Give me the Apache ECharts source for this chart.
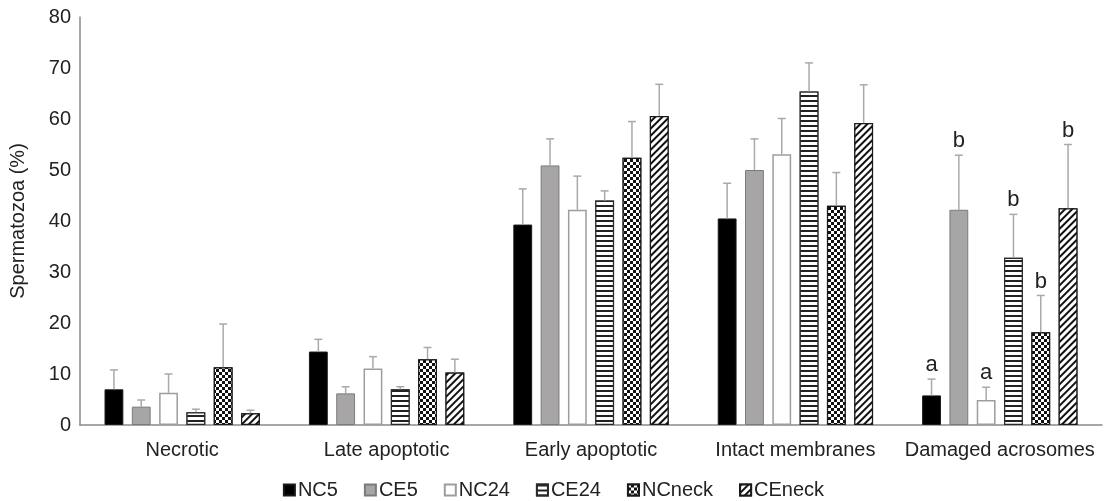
<!DOCTYPE html>
<html>
<head>
<meta charset="utf-8">
<script src="https://cdn.jsdelivr.net/npm/echarts@6/dist/echarts.min.js"></script>
<style>html,body{margin:0;padding:0;background:#fff;}#c{width:1107px;height:501px;}</style>
</head>
<body>
<div id="c"></div>
<script>
const categories = ['Necrotic', 'Late apoptotic', 'Early apoptotic', 'Intact membranes', 'Damaged acrosomes'];
const seriesNames = ['NC5', 'CE5', 'NC24', 'CE24', 'NCneck', 'CEneck'];
const NC5 = [7.0, 14.4, 39.3, 40.5, 5.8];
const CE5 = [3.6, 6.2, 50.9, 50.0, 42.2];
const NC24 = [6.3, 11.1, 42.2, 53.1, 4.9];
const CE24 = [2.5, 7.0, 44.0, 65.4, 32.8];
const NCneck = [11.3, 12.9, 52.4, 43.0, 18.2];
const CEneck = [2.3, 10.3, 60.6, 59.2, 42.5];
const NC5_sd = [3.8, 2.4, 7.0, 6.9, 3.2];
const CE5_sd = [1.3, 1.3, 5.2, 6.1, 10.7];
const NC24_sd = [3.7, 2.3, 6.6, 7.0, 2.5];
const CE24_sd = [0.6, 0.5, 1.9, 5.6, 8.5];
const NCneck_sd = [8.5, 2.3, 7.1, 6.5, 7.2];
const CEneck_sd = [0.6, 2.6, 6.2, 7.5, 12.5];
const letters = ['a', 'b', 'a', 'b', 'b', 'b']; // Damaged acrosomes
const letterCategory = 4;
const yTicks = [0, 10, 20, 30, 40, 50, 60, 70, 80];

const means = [NC5, CE5, NC24, CE24, NCneck, CEneck];
const sds = [NC5_sd, CE5_sd, NC24_sd, CE24_sd, NCneck_sd, CEneck_sd];

const FONT = '"Liberation Sans", Arial, sans-serif';
const TXT = '#222222';
const CAT_GAP = 0.24, BAR_GAP = 0.45;

const styles = [
  {color: '#000000', borderColor: '#1a1a1a', borderWidth: 1},
  {color: '#a7a5a5', borderColor: '#7b7b7b', borderWidth: 1},
  {color: '#ffffff', borderColor: '#9d9d9d', borderWidth: 1.5},
  {color: '#ffffff', borderColor: '#2a2a2a', borderWidth: 1.2,
   decal: {symbol: 'rect', symbolSize: 1, color: '#222', backgroundColor: '#ffffff', dashArrayX: [[1, 0]], dashArrayY: [1.5, 2.5], rotation: 0}},
  {color: '#ffffff', borderColor: '#1a1a1a', borderWidth: 1.2,
   decal: {symbol: 'rect', symbolSize: 1, color: '#111', backgroundColor: '#ffffff', dashArrayX: [[3, 3], [0, 3, 3, 0]], dashArrayY: [3, 0], rotation: 0}},
  {color: '#ffffff', borderColor: '#1a1a1a', borderWidth: 1.2,
   decal: {symbol: 'rect', symbolSize: 1, color: '#111', backgroundColor: '#ffffff', dashArrayX: [[1, 0]], dashArrayY: [2, 3], rotation: -Math.PI / 4}}
];

const barSeries = seriesNames.map((n, i) => ({
  name: n,
  type: 'bar',
  data: means[i],
  barGap: (BAR_GAP * 100) + '%',
  barCategoryGap: (CAT_GAP * 100) + '%',
  itemStyle: styles[i],
  emphasis: {disabled: true},
  z: 2
}));

const errData = [];
for (let s = 0; s < means.length; s++) {
  for (let c = 0; c < categories.length; c++) {
    errData.push([c, means[s][c], s, sds[s][c], c === letterCategory ? letters[s] : '']);
  }
}

const errSeries = {
  type: 'custom',
  data: errData,
  encode: {x: 0, y: 1},
  z: 3,
  silent: true,
  renderItem: function (params, api) {
    const c = api.value(0), m = api.value(1), s = api.value(2), sd = api.value(3);
    const letter = errData[params.dataIndex][4];
    const band = api.size([1, 0])[0];
    const n = seriesNames.length;
    const usable = band * (1 - CAT_GAP);
    const w = usable / (n + (n - 1) * BAR_GAP);
    const off = -usable / 2 + s * w * (1 + BAR_GAP) + w / 2;
    const p0 = api.coord([c, m]);
    const p1 = api.coord([c, m + sd]);
    const x = p0[0] + off;
    const children = [
      {type: 'line', shape: {x1: x, y1: p0[1], x2: x, y2: p1[1]}, style: {stroke: '#a9a9a9', lineWidth: 1.5}},
      {type: 'line', shape: {x1: x - 4, y1: p1[1], x2: x + 4, y2: p1[1]}, style: {stroke: '#a9a9a9', lineWidth: 1.5}}
    ];
    if (letter) {
      children.push({type: 'text', style: {text: letter, x: x, y: p1[1] - 3, align: 'center', verticalAlign: 'bottom', fill: TXT, font: '22px ' + FONT}});
    }
    return {type: 'group', children: children};
  }
};

const chart = echarts.init(document.getElementById('c'), null, {renderer: 'canvas'});
chart.setOption({
  animation: false,
  backgroundColor: '#ffffff',
  grid: {left: 80, right: 5, top: 17, bottom: 76, containLabel: false},
  legend: {
    data: seriesNames,
    top: 475,
    left: 'center',
    itemWidth: 11,
    itemHeight: 11,
    itemGap: 26,
    icon: 'rect',
    textStyle: {fontSize: 20, color: TXT, fontFamily: FONT, padding: [0, 0, 0, -2]},
    selectedMode: false
  },
  xAxis: {
    type: 'category',
    data: categories,
    axisLine: {lineStyle: {color: '#8a8a8a', width: 1.5}},
    axisTick: {show: false},
    axisLabel: {fontSize: 20, color: TXT, fontFamily: FONT, margin: 15, interval: 0, hideOverlap: false}
  },
  yAxis: {
    type: 'value',
    min: yTicks[0],
    max: yTicks[yTicks.length - 1],
    interval: yTicks[1] - yTicks[0],
    name: 'Spermatozoa (%)',
    nameLocation: 'middle',
    nameGap: 52,
    nameRotate: 90,
    nameTextStyle: {fontSize: 20, color: TXT, fontFamily: FONT},
    axisLine: {show: true, lineStyle: {color: '#8a8a8a', width: 1.5}},
    axisTick: {show: false},
    splitLine: {show: false},
    axisLabel: {fontSize: 20, color: TXT, fontFamily: FONT, margin: 9}
  },
  series: barSeries.concat([errSeries])
});
</script>
</body>
</html>
